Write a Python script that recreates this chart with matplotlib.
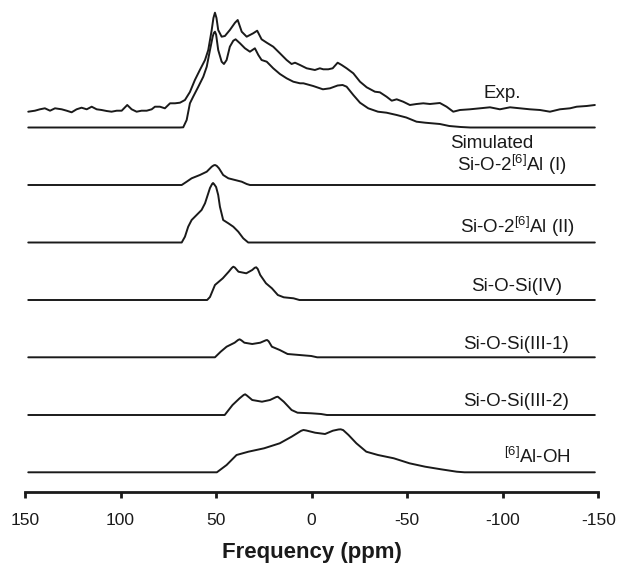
import matplotlib
matplotlib.use("Agg")
import matplotlib.pyplot as plt

plt.rcParams['font.family'] = ['Liberation Sans', 'DejaVu Sans']
plt.rcParams['mathtext.fontset'] = 'custom'
plt.rcParams['mathtext.rm'] = 'Liberation Sans'
plt.rcParams['mathtext.it'] = 'Liberation Sans'

# ---------------- data (ppm, intensity) ----------------
exp_ppm = [148.3, 144.8, 142.2, 139.6, 136.9, 134.3, 130.8, 128.2, 125.6, 123.0, 120.4, 117.7,
           115.1, 112.5, 109.9, 107.3, 104.7, 102.0, 99.4, 96.5, 94.2, 91.6, 89.0, 86.3, 83.7,
           82.0, 79.4, 76.8, 74.1, 71.5, 68.9, 66.3, 63.7, 61.1, 58.5, 55.8, 54.1, 52.3, 51.4,
           50.6, 49.8, 48.9, 47.1, 45.4, 42.8, 40.1, 38.7, 36.6, 34.0, 30.6, 28.5, 26.2, 23.5,
           20.1, 16.6, 13.1, 10.5, 8.7, 6.1, 2.6, -1.7, -4.3, -6.1, -8.7, -11.0, -13.6, -15.7,
           -18.3, -21.8, -25.3, -28.8, -33.1, -35.7, -39.2, -41.9, -44.5, -47.9, -51.4, -54.9,
           -58.4, -61.9, -67.1, -70.6, -74.1, -77.6, -82.8, -88.1, -93.3, -98.5, -103.8, -109.0,
           -114.2, -119.5, -124.7, -129.9, -135.2, -138.7, -143.9, -148.2]
exp_int = [-2.7, -1.7, -0.3, 0.7, -1.7, 0.7, -0.3, -1.7, -3.3, -0.3, 1.3, -0.3,
           2.3, -0.3, -1.0, -2.0, -2.7, -1.7, -1.7, 4.0, -0.3, -2.7, -1.7, -1.7, -0.3,
           2.3, 2.3, 0.7, 5.7, 5.7, 6.3, 9.0, 17.0, 29.0, 39.0, 49.0, 59.0, 79.0, 91.0,
           96.3, 91.0, 79.0, 72.3, 73.0, 79.0, 86.3, 89.0, 77.3, 72.3, 75.7, 78.3, 69.7, 66.3,
           62.3, 55.7, 49.0, 45.0, 46.3, 44.0, 40.7, 39.0, 40.7, 39.7, 39.7, 40.7, 46.3, 44.0,
           40.7, 35.7, 27.3, 21.7, 17.3, 16.7, 12.3, 8.3, 9.7, 7.3, 4.0, 5.0,
           5.7, 5.0, 6.0, 2.3, -2.7, -1.0, -0.3, 0.7, 1.7, -0.3, 1.7, 0.7,
           -0.3, -1.0, -2.7, -0.3, 0.7, 2.3, 3.0, 4.0]

sim_ppm = [148.3, 68.9, 67.2, 65.4, 63.7, 62.0, 59.3, 56.7, 54.9, 53.2, 51.8, 51.2, 50.6, 50.0,
           48.9, 47.1, 45.9, 44.5, 42.8, 41.0, 39.8, 37.5, 34.9, 32.3, 29.7, 27.9, 26.2, 23.5,
           20.1, 16.6, 13.1, 9.6, 6.1, 4.3, -0.8, -5.9, -9.6, -13.6, -16.2, -18.3, -21.8,
           -25.3, -29.6, -34.7, -39.2, -44.5, -49.5, -54.9, -59.4, -67.1, -72.0, -78.0, -83.0,
           -148.2]
sim_int = [0, 0, 0.2, 7.5, 24.2, 30.8, 40.8, 50.8, 60.8, 77.5, 90.8, 94.5, 95.8, 93.0,
           77.5, 65.8, 63.5, 67.5, 80.8, 86.8, 88.2, 84.2, 79.2, 75.8, 79.2, 72.5, 67.5, 65.8,
           59.2, 53.5, 49.2, 45.8, 44.2, 44.2, 41.5, 38.2, 39.2, 42.0, 42.5, 40.8, 32.5,
           24.8, 19.2, 15.8, 14.8, 12.5, 10.0, 5.8, 4.8, 3.5, 1.5, 0.5, 0,
           0]

al1_ppm = [148.3, 68.0, 65.4, 62.8, 58.5, 54.9, 52.3, 51.3, 50.6, 49.7, 48.5, 46.3, 43.6, 40.1,
           36.6, 34.0, 32.3, -148.2]
al1_int = [0, 0, 3.3, 6.7, 10.0, 13.3, 18.3, 19.6, 20.0, 19.2, 16.7, 10.0, 6.7, 5.0,
           3.3, 1.0, 0, 0]

al2_ppm = [148.3, 68.0, 66.3, 64.6, 62.8, 60.2, 57.6, 55.8, 54.1, 53.2, 52.1, 51.6, 51.1, 50.0,
           48.9, 48.0, 46.3, 43.6, 41.0, 38.4, 35.8, 33.2, -148.2]
al2_int = [0, 0, 5.8, 15.8, 22.5, 27.5, 32.5, 39.2, 49.2, 54.5, 58.5, 59.5, 58.5, 55.5,
           47.5, 35.8, 22.5, 19.2, 15.8, 10.8, 4.2, 0, 0]

iv_ppm = [148.3, 54.7, 53.2, 50.6, 46.5, 43.4, 41.8, 41.0, 40.2, 38.3, 34.2, 31.1, 29.8, 29.0,
          28.2, 26.9, 23.9, 20.8, 17.7, 14.6, 9.5, 6.4, -148.2]
iv_int = [0, 0, 3.0, 15.0, 21.7, 28.3, 32.0, 33.3, 32.5, 28.3, 26.7, 30.0, 32.2, 32.7,
          31.0, 25.0, 16.7, 11.7, 5.0, 2.7, 1.7, 0, 0]

iii1_ppm = [148.3, 50.6, 47.6, 44.5, 40.3, 38.5, 37.7, 36.8, 35.2, 31.1, 26.9, 24.0, 23.3, 22.5,
            20.8, 16.7, 12.6, 6.4, 0.2, -2.9, -148.2]
iii1_int = [0, 0, 5.6, 10.6, 14.6, 17.3, 18.0, 17.0, 14.6, 13.3, 14.6, 17.0, 17.3, 16.0,
            10.6, 7.3, 3.3, 2.3, 1.3, 0, 0]

iii2_ppm = [148.3, 45.5, 41.4, 37.7, 35.6, 34.8, 33.9, 31.1, 26.0, 21.8, 18.5, 17.7, 16.9,
            14.6, 10.5, 7.4, 0.2, -4.9, -8.0, -148.2]
iii2_int = [0, 0, 10.0, 16.7, 20.0, 20.7, 19.5, 15.0, 13.3, 15.0, 18.0, 18.3, 17.0,
            13.3, 5.0, 2.3, 1.7, 1.0, 0, 0]

aloh_ppm = [148.3, 49.6, 44.5, 39.3, 33.1, 24.9, 16.7, 10.5, 5.5, 4.3, 2.8, -1.8, -7.0, -11.1,
            -14.0, -15.2, -16.5, -19.3, -23.4, -28.6, -34.7, -43.0, -51.2, -59.4, -67.7,
            -75.9, -80.0, -148.2]
aloh_int = [0, 0, 7.3, 17.3, 20.6, 24.0, 29.0, 35.6, 41.5, 42.3, 41.8, 39.6, 38.3, 41.6,
            42.8, 43.0, 42.2, 37.3, 29.0, 20.6, 17.3, 14.0, 9.0, 5.6, 3.0,
            0.6, 0, 0]

labels = ["Exp.", "Simulated", r"Si-O-2$^{\mathrm{[6]}}$Al (I)", r"Si-O-2$^{\mathrm{[6]}}$Al (II)",
          "Si-O-Si(IV)", "Si-O-Si(III-1)", "Si-O-Si(III-2)", r"$^{\mathrm{[6]}}$Al-OH"]
tick_values = [150, 100, 50, 0, -50, -100, -150]
tick_labels = ["150", "100", "50", "0", "-50", "-100", "-150"]

# ---------------- layout (stack offsets and label positions) ----------------
series = [(exp_ppm, exp_int), (sim_ppm, sim_int), (al1_ppm, al1_int), (al2_ppm, al2_int),
          (iv_ppm, iv_int), (iii1_ppm, iii1_int), (iii2_ppm, iii2_int), (aloh_ppm, aloh_int)]
offsets = [383, 364.5, 307, 249.5, 192, 134.7, 77, 19.7]
label_x = [-99.5, -94.3, -104.8, -107.8, -107.3, -106.8, -106.8, -118.0]
label_y = [394, 344, 321, 259, 201, 143, 86, 29]

W, H = 618, 567
fig = plt.figure(figsize=(W / 100, H / 100), dpi=100)
ax = fig.add_axes([25 / W, (H - 492) / H, 573.3 / W, 492 / H])

for (p, v), off in zip(series, offsets):
    ax.plot(p, [off + iv for iv in v], color='#1a1a1a', lw=1.4,
            solid_joinstyle='round', solid_capstyle='round')

for lab, lx, ly in zip(labels, label_x, label_y):
    ax.text(lx, ly, lab, ha='center', va='baseline', fontsize=13.5, color='#1a1a1a')

ax.set_xlim(150, -150)
ax.set_ylim(0, 492)
for s in ['top', 'left', 'right']:
    ax.spines[s].set_visible(False)
ax.spines['bottom'].set_linewidth(2.0)
ax.spines['bottom'].set_color('#1a1a1a')
ax.set_yticks([])
ax.set_xticks(tick_values)
ax.set_xticklabels(tick_labels)
ax.tick_params(axis='x', direction='out', length=4, width=2.0, pad=11,
               labelsize=12.5, color='#1a1a1a', labelcolor='#1a1a1a')
ax.set_xlabel("Frequency (ppm)", fontsize=16, fontweight='bold', labelpad=10, color='#1a1a1a')
ax.patch.set_visible(False)

fig.savefig("out.png", dpi=100)
